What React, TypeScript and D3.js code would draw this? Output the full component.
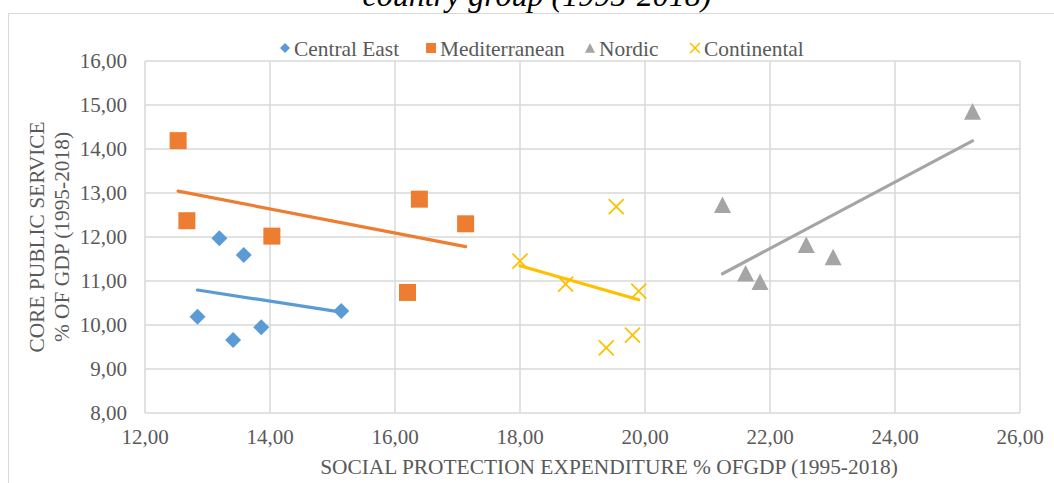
import React, { useEffect, useRef } from 'react';
import * as d3 from 'd3';

// values
const seriesNames = ['Central East', 'Mediterranean', 'Nordic', 'Continental'];
const seriesColors = ['#5B9BD5', '#ED7D31', '#A5A5A5', '#FFC000'];
const seriesShapes = ['diamond', 'square', 'triangle', 'cross'];

const centralEastX = [13.19, 13.58, 12.84, 13.41, 13.86, 15.14];
const centralEastY = [11.97, 11.59, 10.19, 9.66, 9.95, 10.32];
const mediterraneanX = [12.53, 12.67, 14.03, 16.39, 17.13, 16.2];
const mediterraneanY = [14.19, 12.37, 12.02, 12.86, 12.3, 10.74];
const nordicX = [21.24, 21.61, 21.84, 22.58, 23.01, 25.24];
const nordicY = [12.73, 11.17, 10.98, 11.82, 11.54, 14.85];
const continentalX = [18.0, 18.73, 19.54, 19.9, 19.8, 19.38];
const continentalY = [11.45, 10.93, 12.69, 10.77, 9.77, 9.48];

const xTicks = [12, 14, 16, 18, 20, 22, 24, 26];
const yTicks = [8, 9, 10, 11, 12, 13, 14, 15, 16];

const titleText = 'country group (1995-2018)';
const xTitle = 'SOCIAL PROTECTION EXPENDITURE % OFGDP (1995-2018)';
const yTitle1 = 'CORE PUBLIC SERVICE';
const yTitle2 = '% OF GDP (1995-2018)';

const FONT = '"Liberation Serif", "Times New Roman", serif';

const fmt = (v: number) => d3.format('.2f')(v).replace('.', ',');

const markerPath = (shape: string, s: number) => {
  const h = s / 2;
  if (shape === 'diamond') return `M0,${-h}L${h},0L0,${h}L${-h},0Z`;
  if (shape === 'square') return `M${-h},${-h}H${h}V${h}H${-h}Z`;
  if (shape === 'triangle') return `M0,${-h}L${h},${h * 0.95}L${-h},${h * 0.95}Z`;
  return `M${-h},${-h}L${h},${h}M${h},${-h}L${-h},${h}`;
};

const App = () => {
  const svgRef = useRef<SVGSVGElement>(null);

  useEffect(() => {
    const width = 1054;
    const height = 483;
    const svg = d3.select(svgRef.current);
    svg.selectAll('*').remove();

    const x = d3.scaleLinear().domain([12, 26]).range([145, 1020]);
    const y = d3.scaleLinear().domain([8, 16]).range([413, 61]);

    // chart frame (cut at right and bottom like the reference)
    svg.append('rect')
      .attr('x', 8.5).attr('y', 13.5)
      .attr('width', width + 20).attr('height', height + 20)
      .attr('fill', 'white').attr('stroke', '#D9D9D9').attr('stroke-width', 1);

    // title (cut at the top)
    svg.append('text')
      .attr('x', 537).attr('y', 6)
      .attr('text-anchor', 'middle')
      .style('font-family', FONT).style('font-style', 'italic')
      .style('font-size', '32px').attr('fill', '#000')
      .text(titleText);

    // gridlines
    svg.append('g').selectAll('line.h').data(yTicks).enter().append('line')
      .attr('x1', x(12)).attr('x2', x(26))
      .attr('y1', (d) => y(d)).attr('y2', (d) => y(d))
      .attr('stroke', '#D9D9D9').attr('stroke-width', 1.5);
    svg.append('g').selectAll('line.v').data(xTicks).enter().append('line')
      .attr('y1', y(8)).attr('y2', y(16))
      .attr('x1', (d) => x(d)).attr('x2', (d) => x(d))
      .attr('stroke', '#D9D9D9').attr('stroke-width', 1.5);

    // tick labels
    svg.append('g').selectAll('text').data(yTicks).enter().append('text')
      .attr('x', 127).attr('y', (d) => y(d)).attr('dy', '0.35em')
      .attr('text-anchor', 'end')
      .style('font-family', FONT).style('font-size', '21px').attr('fill', '#595959')
      .text((d) => fmt(d));
    svg.append('g').selectAll('text').data(xTicks).enter().append('text')
      .attr('x', (d) => x(d)).attr('y', 437).attr('dy', '0.35em')
      .attr('text-anchor', 'middle')
      .style('font-family', FONT).style('font-size', '21px').attr('fill', '#595959')
      .text((d) => fmt(d));

    // axis titles
    svg.append('text')
      .attr('x', 609).attr('y', 467).attr('dy', '0.35em')
      .attr('text-anchor', 'middle')
      .style('font-family', FONT).style('font-size', '21.4px').attr('fill', '#595959')
      .text(xTitle);
    const yt = svg.append('g').attr('transform', 'translate(0,237) rotate(-90)');
    yt.append('text').attr('x', 0).attr('y', 37).attr('dy', '0.35em')
      .attr('text-anchor', 'middle')
      .style('font-family', FONT).style('font-size', '21.4px').attr('fill', '#595959')
      .text(yTitle1);
    yt.append('text').attr('x', 0).attr('y', 62).attr('dy', '0.35em')
      .attr('text-anchor', 'middle')
      .style('font-family', FONT).style('font-size', '21.4px').attr('fill', '#595959')
      .text(yTitle2);

    const xs = [centralEastX, mediterraneanX, nordicX, continentalX];
    const ys = [centralEastY, mediterraneanY, nordicY, continentalY];

    // linear trend lines
    xs.forEach((xv, i) => {
      const yv = ys[i];
      const mx = d3.mean(xv) as number;
      const my = d3.mean(yv) as number;
      const slope = d3.sum(xv, (v, j) => (v - mx) * (yv[j] - my)) / d3.sum(xv, (v) => (v - mx) ** 2);
      const [x0, x1] = d3.extent(xv) as [number, number];
      const line = d3.line<number>().x((v) => x(v)).y((v) => y(my + slope * (v - mx)));
      svg.append('path')
        .attr('d', line([x0, x1]))
        .attr('stroke', seriesColors[i]).attr('stroke-width', 3.2)
        .attr('stroke-linecap', 'round').attr('fill', 'none');
    });

    // markers
    const sizes = [16, 17, 17, 15];
    xs.forEach((xv, i) => {
      const shape = seriesShapes[i];
      svg.append('g').selectAll('path').data(xv.map((v, j) => [v, ys[i][j]])).enter().append('path')
        .attr('transform', (d) => `translate(${x(d[0])},${y(d[1])})`)
        .attr('d', markerPath(shape, sizes[i]))
        .attr('fill', shape === 'cross' ? 'none' : seriesColors[i])
        .attr('stroke', shape === 'cross' ? seriesColors[i] : 'none')
        .attr('stroke-width', 1.8);
    });

    // legend
    const legendX = [285, 431, 590, 695];
    const lg = svg.append('g').attr('transform', 'translate(0,48)');
    seriesNames.forEach((name, i) => {
      lg.append('path')
        .attr('transform', `translate(${legendX[i]},0)`)
        .attr('d', markerPath(seriesShapes[i], 10))
        .attr('fill', seriesShapes[i] === 'cross' ? 'none' : seriesColors[i])
        .attr('stroke', seriesShapes[i] === 'cross' ? seriesColors[i] : 'none')
        .attr('stroke-width', 1.6);
      lg.append('text')
        .attr('x', legendX[i] + 9).attr('y', 0).attr('dy', '0.35em')
        .style('font-family', FONT).style('font-size', '21.4px').attr('fill', '#595959')
        .text(name);
    });
  }, []);

  return (
    <svg
      ref={svgRef}
      width={1054}
      height={483}
      style={{ position: 'absolute', left: 0, top: 0, background: 'white' }}
    ></svg>
  );
};

export default App;
